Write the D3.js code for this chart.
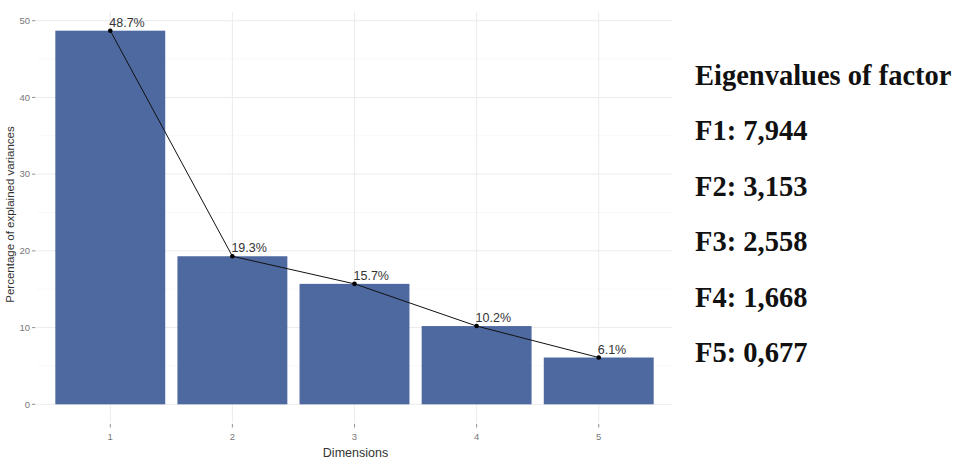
<!DOCTYPE html>
<html>
<head>
<meta charset="utf-8">
<script src="https://cdn.jsdelivr.net/npm/d3@7"></script>
<style>
    body { margin: 0; background: #fff; }
    .grid-major { stroke: #ebebeb; stroke-width: 1; }
    .grid-minor { stroke: #f3f3f3; stroke-width: 0.6; }
    .tick-label { font-family: "Liberation Sans", Arial, sans-serif; font-size: 9.5px; fill: #777; }
    .axis-title { font-family: "Liberation Sans", Arial, sans-serif; font-size: 11.5px; fill: #333; }
    .bar-label { font-family: "Liberation Sans", Arial, sans-serif; font-size: 12.5px; fill: #333; }
    .eig-text { font-family: "Liberation Serif", "Times New Roman", serif; font-size: 28.5px; font-weight: bold; fill: #111; }
</style>
</head>
<body>
<div id="chart"></div>
<script>
"use strict";

const dimensions = ["1", "2", "3", "4", "5"];
const explainedVariance = [48.7, 19.3, 15.7, 10.2, 6.1];
const yTicks = [0, 10, 20, 30, 40, 50];
const yMinorTicks = [5, 15, 25, 35, 45];
const factorNames = ["F1", "F2", "F3", "F4", "F5"];
const eigenvalues = [7.944, 3.153, 2.558, 1.668, 0.677];
const panelTitle = "Eigenvalues of factor";

const BAR_FILL = "#4d69a0";
const WIDTH = 953, HEIGHT = 460;

function buildChart() {
    const svg = d3.select("#chart").append("svg")
        .attr("width", WIDTH)
        .attr("height", HEIGHT);

    const panel = {left: 37, right: 672, top: 12, bottom: 423};
    const maxVal = d3.max(explainedVariance);
    // ggplot style 5% expansion on each side
    const y = d3.scaleLinear()
        .domain([-0.05 * maxVal, maxVal * 1.05])
        .range([panel.bottom, panel.top]);
    const x = d3.scaleBand()
        .domain(dimensions)
        .range([panel.left, panel.right])
        .paddingInner(0.1)
        .paddingOuter(0.15);

    const g = svg.append("g");

    // grid
    g.selectAll(".grid-minor")
        .data(yMinorTicks)
        .enter()
        .append("line")
        .attr("class", "grid-minor")
        .attr("x1", panel.left).attr("x2", panel.right)
        .attr("y1", function (d) { return y(d); })
        .attr("y2", function (d) { return y(d); });
    g.selectAll(".grid-major-y")
        .data(yTicks)
        .enter()
        .append("line")
        .attr("class", "grid-major")
        .attr("x1", panel.left).attr("x2", panel.right)
        .attr("y1", function (d) { return y(d); })
        .attr("y2", function (d) { return y(d); });
    g.selectAll(".grid-major-x")
        .data(dimensions)
        .enter()
        .append("line")
        .attr("class", "grid-major")
        .attr("y1", panel.top).attr("y2", panel.bottom)
        .attr("x1", function (d) { return x(d) + x.bandwidth() / 2; })
        .attr("x2", function (d) { return x(d) + x.bandwidth() / 2; });

    // bars
    const data = dimensions.map(function (d, i) {
        return {dim: d, value: explainedVariance[i]};
    });
    g.selectAll(".bar")
        .data(data)
        .enter()
        .append("rect")
        .attr("class", "bar")
        .attr("fill", BAR_FILL)
        .attr("x", function (d) { return x(d.dim); })
        .attr("width", x.bandwidth())
        .attr("y", function (d) { return y(d.value); })
        .attr("height", function (d) { return y(0) - y(d.value); });

    // line + points
    const cx = function (d) { return x(d.dim) + x.bandwidth() / 2; };
    const line = d3.line()
        .x(cx)
        .y(function (d) { return y(d.value); });
    g.append("path")
        .datum(data)
        .attr("fill", "none")
        .attr("stroke", "#111")
        .attr("stroke-width", 1)
        .attr("d", line);
    g.selectAll(".pt")
        .data(data)
        .enter()
        .append("circle")
        .attr("class", "pt")
        .attr("cx", cx)
        .attr("cy", function (d) { return y(d.value); })
        .attr("r", 2.3)
        .attr("fill", "#000");

    const fmt = d3.format(".1f");
    g.selectAll(".bar-label")
        .data(data)
        .enter()
        .append("text")
        .attr("class", "bar-label")
        .attr("x", function (d) { return cx(d) - 1; })
        .attr("y", function (d) { return y(d.value) - 4; })
        .text(function (d) { return fmt(d.value) + "%"; });

    // y axis
    const yAxis = g.append("g");
    yAxis.selectAll("text")
        .data(yTicks)
        .enter()
        .append("text")
        .attr("class", "tick-label")
        .attr("x", 30)
        .attr("y", function (d) { return y(d); })
        .attr("dy", "0.35em")
        .attr("text-anchor", "end")
        .text(function (d) { return d; });
    yAxis.selectAll("line")
        .data(yTicks)
        .enter()
        .append("line")
        .attr("x1", 32).attr("x2", 35.5)
        .attr("y1", function (d) { return y(d); })
        .attr("y2", function (d) { return y(d); })
        .attr("stroke", "#777")
        .attr("stroke-width", 0.8);

    // x axis
    const xAxis = g.append("g");
    xAxis.selectAll("line")
        .data(dimensions)
        .enter()
        .append("line")
        .attr("x1", function (d) { return x(d) + x.bandwidth() / 2; })
        .attr("x2", function (d) { return x(d) + x.bandwidth() / 2; })
        .attr("y1", panel.bottom + 1)
        .attr("y2", panel.bottom + 4.5)
        .attr("stroke", "#777")
        .attr("stroke-width", 0.8);
    xAxis.selectAll("text")
        .data(dimensions)
        .enter()
        .append("text")
        .attr("class", "tick-label")
        .attr("x", function (d) { return x(d) + x.bandwidth() / 2; })
        .attr("y", panel.bottom + 17)
        .attr("text-anchor", "middle")
        .text(function (d) { return d; });

    svg.append("text")
        .attr("class", "axis-title")
        .attr("x", (panel.left + panel.right) / 2 + 1)
        .attr("y", 457)
        .attr("text-anchor", "middle")
        .style("font-size", "12.5px")
        .text("Dimensions");
    svg.append("text")
        .attr("class", "axis-title")
        .attr("transform", "translate(14," + ((panel.top + panel.bottom) / 2 - 3) + ") rotate(-90)")
        .attr("text-anchor", "middle")
        .text("Percentage of explained variances");

    // eigenvalue list
    const eigFmt = d3.format(".3f");
    const lines = [panelTitle].concat(factorNames.map(function (f, i) {
        return f + ": " + eigFmt(eigenvalues[i]).replace(".", ",");
    }));
    svg.selectAll(".eig-text")
        .data(lines)
        .enter()
        .append("text")
        .attr("class", "eig-text")
        .attr("x", 695)
        .attr("y", function (d, i) { return 85 + i * 55.4; })
        .text(function (d) { return d; });
}

buildChart();
</script>
</body>
</html>
